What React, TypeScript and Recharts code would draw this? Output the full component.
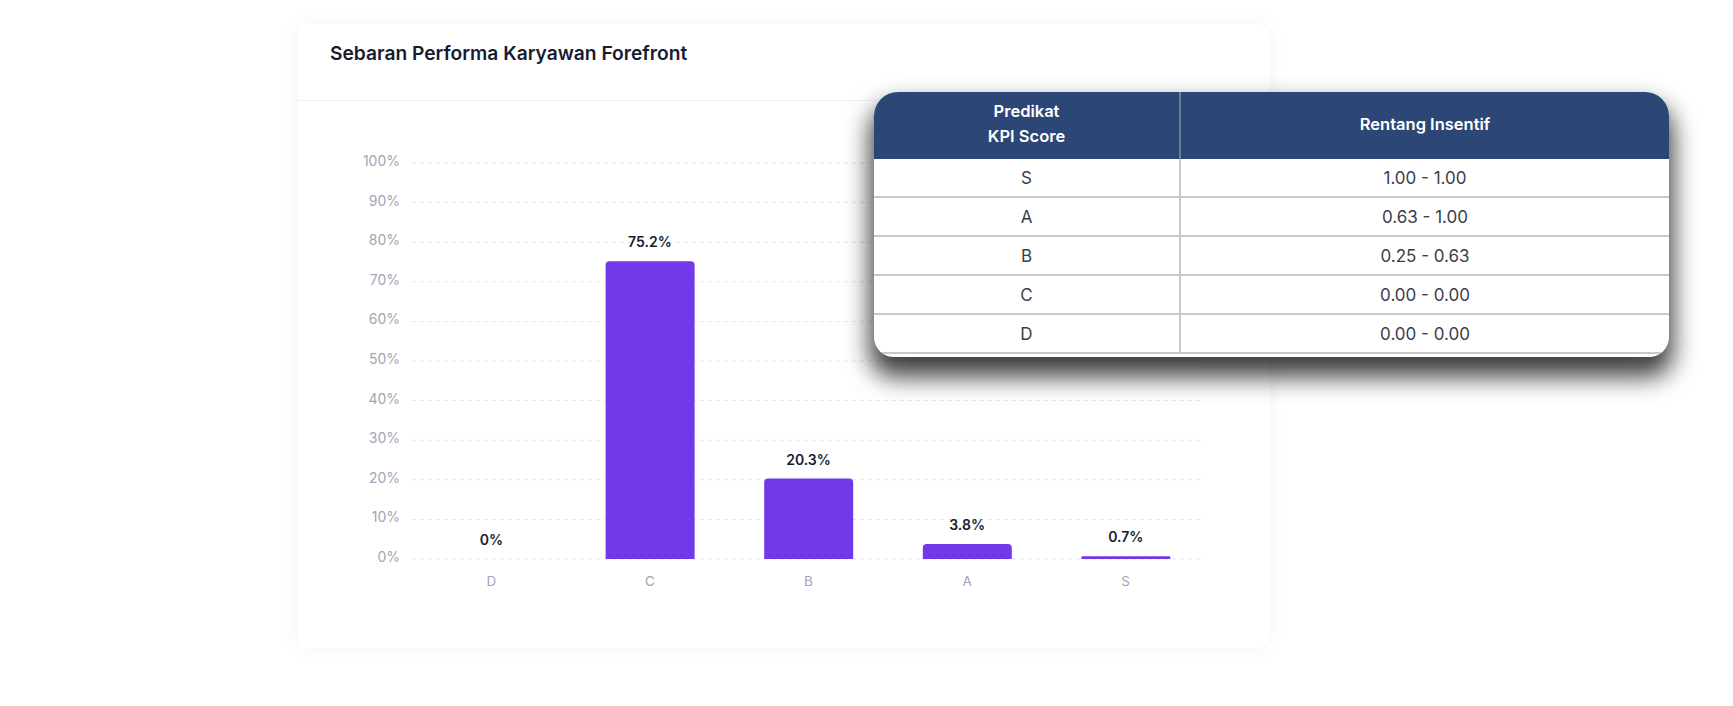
import { ComposedChart, Bar, Line, XAxis, YAxis, CartesianGrid, LabelList } from 'recharts';

const grades = ['D', 'C', 'B', 'A', 'S'];
const percentages = [0, 75.2, 20.3, 3.8, 0.7];
const yTicks = [0, 10, 20, 30, 40, 50, 60, 70, 80, 90, 100];

const tableGrades = ['S', 'A', 'B', 'C', 'D'];
const incentiveRanges = ['1.00 - 1.00', '0.63 - 1.00', '0.25 - 0.63', '0.00 - 0.00', '0.00 - 0.00'];

const chartData = grades.map((grade, i) => ({ grade, value: percentages[i] }));

const font = 'Inter, "Noto Sans", sans-serif';

function IncentiveTable() {
  return (
    <div
      style={{
        position: 'absolute',
        left: 874,
        top: 92,
        width: 795,
        height: 265,
        background: '#fff',
        borderRadius: '24px 24px 20px 20px',
        overflow: 'hidden',
        boxShadow: '0 16px 24px 4px rgba(0,0,0,0.75)',
        fontFamily: font,
      }}
    >
      <div style={{ display: 'flex', height: 67, background: '#2c4775', color: '#fff', fontWeight: 600, fontSize: 16.5 }}>
        <div
          style={{
            width: 305,
            borderRight: '2px solid #6b7d9c',
            display: 'flex',
            alignItems: 'center',
            justifyContent: 'center',
            textAlign: 'center',
            lineHeight: '25px',
            paddingBottom: 4,
          }}
        >
          Predikat
          <br />
          KPI Score
        </div>
        <div style={{ flex: 1, display: 'flex', alignItems: 'center', justifyContent: 'center', paddingBottom: 3 }}>
          Rentang Insentif
        </div>
      </div>
      {tableGrades.map((g, i) => (
        <div
          key={i}
          style={{
            display: 'flex',
            height: 37,
            borderBottom: '2px solid #c9c9c9',
            color: '#3a3d4d',
            fontSize: 17,
          }}
        >
          <div style={{ width: 305, borderRight: '2px solid #c9c9c9', display: 'flex', alignItems: 'center', justifyContent: 'center', paddingTop: 1 }}>
            {g}
          </div>
          <div style={{ flex: 1, display: 'flex', alignItems: 'center', justifyContent: 'center', paddingTop: 1 }}>
            {incentiveRanges[i]}
          </div>
        </div>
      ))}
    </div>
  );
}

export default function App() {
  return (
    <div style={{ position: 'absolute', left: 0, top: 0, width: 1733, height: 706, background: '#fff', overflow: 'hidden', fontFamily: font }}>
      <div
        style={{
          position: 'absolute',
          left: 298,
          top: 24,
          width: 971,
          height: 624,
          background: '#fff',
          borderRadius: 10,
          boxShadow: '0 0 22px rgba(0,0,0,0.05)',
        }}
      >
        <div style={{ height: 77, borderBottom: '1px solid #eff2f5', paddingLeft: 32, paddingTop: 17, boxSizing: 'border-box' }}>
          <span style={{ fontSize: 19.2, lineHeight: '24px', fontWeight: 600, color: '#181c32' }}>Sebaran Performa Karyawan Forefront</span>
        </div>
      </div>
      <div style={{ position: 'absolute', left: 340, top: 140 }}>
        <ComposedChart width={880} height={470} data={chartData} margin={{ top: 23, right: 15, left: 0, bottom: 21 }}>
          <CartesianGrid vertical={false} stroke="#e4e6ef" strokeDasharray="4 4" />
          <XAxis
            dataKey="grade"
            axisLine={false}
            tickLine={false}
            tickMargin={11}
            height={30}
            tick={{ fill: '#a1a5b7', fontSize: 13.5, fontFamily: font }}
          />
          <YAxis
            domain={[0, 100]}
            ticks={yTicks}
            axisLine={false}
            tickLine={false}
            tickMargin={6}
            width={72}
            tickFormatter={(v) => `${v}%`}
            tick={{ fill: '#a1a5b7', fontSize: 14, fontFamily: font, dy: -2 }}
          />
          <Bar dataKey="value" fill="#7239ea" barSize={89} radius={[4, 4, 0, 0]} isAnimationActive={false} />
          <Line dataKey="value" stroke="none" dot={false} activeDot={false} isAnimationActive={false}>
            <LabelList
              dataKey="value"
              position="top"
              offset={14}
              formatter={(v: any) => `${v}%`}
              style={{ fill: '#181c32', fontSize: 14, fontWeight: 600, fontFamily: font }}
            />
          </Line>
        </ComposedChart>
      </div>
      <IncentiveTable />
    </div>
  );
}
